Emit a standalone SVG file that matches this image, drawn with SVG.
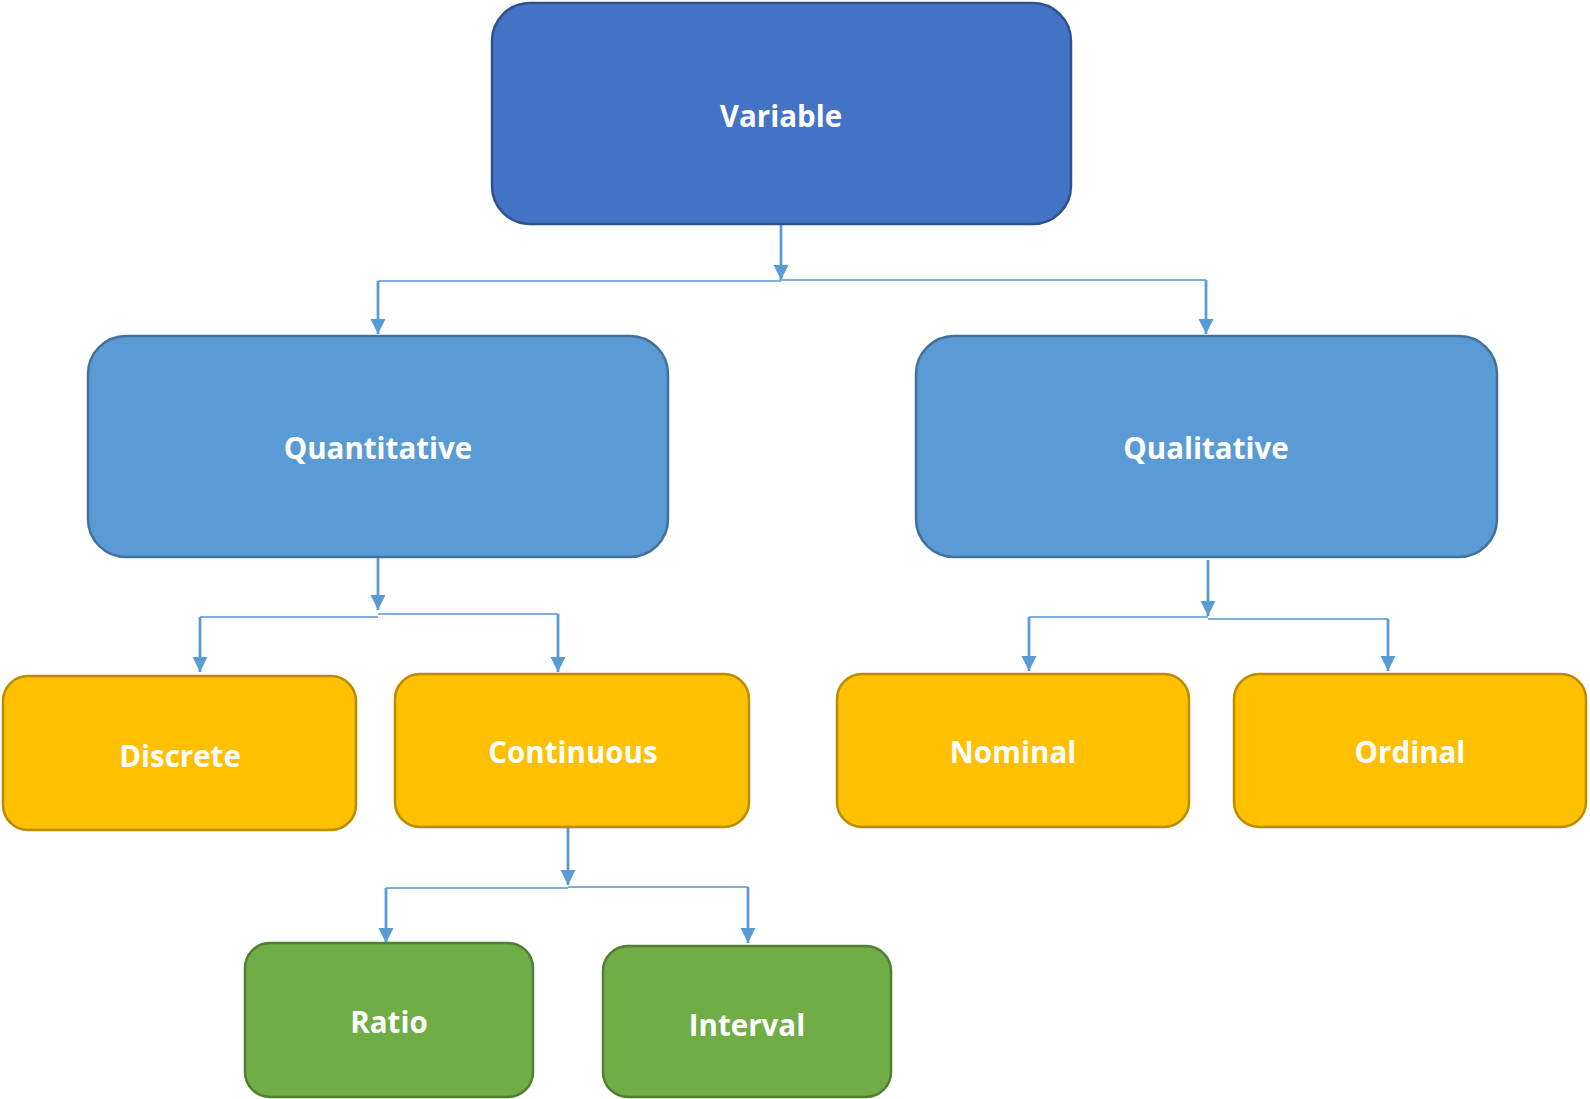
<svg xmlns="http://www.w3.org/2000/svg" width="1590" height="1099" viewBox="0 0 1590 1099">
<defs>
<marker id="arr" viewBox="0 0 10 10" refX="10" refY="5" markerWidth="15" markerHeight="17" markerUnits="userSpaceOnUse" orient="auto">
<path d="M0,0 L10,5 L0,10 z" fill="#5B9BD5"/>
</marker>
<style>
.t{font-family:"Open Sans","Liberation Sans",sans-serif;font-weight:bold;font-size:29.5px;fill:#FFFFFF;text-anchor:middle;dominant-baseline:central}
.dark{fill:#4472C4;stroke:#2F528F;stroke-width:2.5}
.mid{fill:#5B9BD5;stroke:#41719C;stroke-width:2.5}
.yel{fill:#FFC000;stroke:#BC8C00;stroke-width:2.5}
.grn{fill:#70AD47;stroke:#507E32;stroke-width:2.5}
.v{fill:none;stroke:#5B9BD5;stroke-width:2.8}
.h{fill:none;stroke:#7EB0DE;stroke-width:1.8}
</style>
</defs>
<rect width="1590" height="1099" fill="#FFFFFF"/>
<g id="connectors">
<line class="v" x1="781" y1="224" x2="781" y2="280" marker-end="url(#arr)"/>
<line class="h" x1="378" y1="281" x2="781" y2="281"/>
<line class="h" x1="781" y1="280" x2="1206" y2="280"/>
<line class="v" x1="378" y1="281" x2="378" y2="334" marker-end="url(#arr)"/>
<line class="v" x1="1206" y1="280" x2="1206" y2="334" marker-end="url(#arr)"/>

<line class="v" x1="378" y1="557" x2="378" y2="610" marker-end="url(#arr)"/>
<line class="h" x1="200" y1="617" x2="378" y2="617"/>
<line class="h" x1="378" y1="614" x2="558" y2="614"/>
<line class="v" x1="200" y1="617" x2="200" y2="672" marker-end="url(#arr)"/>
<line class="v" x1="558" y1="614" x2="558" y2="672" marker-end="url(#arr)"/>

<line class="v" x1="1208" y1="560" x2="1208" y2="616" marker-end="url(#arr)"/>
<line class="h" x1="1029" y1="617" x2="1208" y2="617"/>
<line class="h" x1="1208" y1="619" x2="1388" y2="619"/>
<line class="v" x1="1029" y1="617" x2="1029" y2="671" marker-end="url(#arr)"/>
<line class="v" x1="1388" y1="619" x2="1388" y2="671" marker-end="url(#arr)"/>

<line class="v" x1="568" y1="827" x2="568" y2="885" marker-end="url(#arr)"/>
<line class="h" x1="386" y1="888" x2="568" y2="888"/>
<line class="h" x1="568" y1="887" x2="748" y2="887"/>
<line class="v" x1="386" y1="888" x2="386" y2="943" marker-end="url(#arr)"/>
<line class="v" x1="748" y1="887" x2="748" y2="943" marker-end="url(#arr)"/>
</g>
<g id="variable">
<rect class="dark" x="492" y="3" width="579" height="221" rx="38"/>
<text class="t" x="781" y="115">Variable</text>
</g>
<g id="quantitative">
<rect class="mid" x="88" y="336" width="580" height="221" rx="38"/>
<text class="t" x="378" y="447">Quantitative</text>
</g>
<g id="qualitative">
<rect class="mid" x="916" y="336" width="581" height="221" rx="38"/>
<text class="t" x="1206" y="447">Qualitative</text>
</g>
<g id="discrete">
<rect class="yel" x="3" y="676" width="353" height="154" rx="25"/>
<text class="t" x="180" y="755">Discrete</text>
</g>
<g id="continuous">
<rect class="yel" x="395" y="674" width="354" height="153" rx="25"/>
<text class="t" x="573" y="751">Continuous</text>
</g>
<g id="nominal">
<rect class="yel" x="837" y="674" width="352" height="153" rx="25"/>
<text class="t" x="1013" y="751">Nominal</text>
</g>
<g id="ordinal">
<rect class="yel" x="1234" y="674" width="352" height="153" rx="25"/>
<text class="t" x="1410" y="751">Ordinal</text>
</g>
<g id="ratio">
<rect class="grn" x="245" y="943" width="288" height="154" rx="25"/>
<text class="t" x="389" y="1021">Ratio</text>
</g>
<g id="interval">
<rect class="grn" x="603" y="946" width="288" height="151" rx="25"/>
<text class="t" x="747" y="1024">Interval</text>
</g>
</svg>
